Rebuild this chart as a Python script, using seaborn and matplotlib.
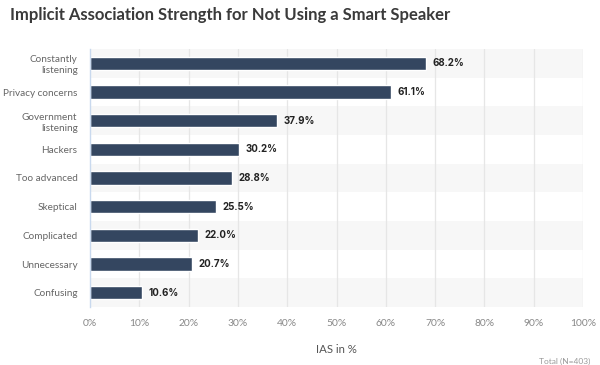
import matplotlib
matplotlib.use("Agg")
import matplotlib.pyplot as plt
import seaborn as sns
import pandas as pd
from matplotlib.ticker import FixedLocator, NullFormatter

categories = ["Constantly\nlistening", "Privacy concerns", "Government\nlistening", "Hackers",
              "Too advanced", "Skeptical", "Complicated", "Unnecessary", "Confusing"]
values = [68.2, 61.1, 37.9, 30.2, 28.8, 25.5, 22.0, 20.7, 10.6]
x_ticks = [0, 10, 20, 30, 40, 50, 60, 70, 80, 90, 100]

df = pd.DataFrame({"reason": categories, "ias": values})

sns.set_theme(style="white")
plt.rcParams['font.family'] = ['Lato', 'DejaVu Sans']

fig = plt.figure(figsize=(6, 3.65), dpi=100)
ax = fig.add_axes([90/600, 1 - 307/365, (583-90)/600, (307-49)/365])

n = len(categories)
for i in range(n):
    if i % 2 == 0:
        ax.axhspan(i - 0.5, i + 0.5, color="#f7f7f7", zorder=0, lw=0)
for t in x_ticks[1:]:
    ax.axvline(t, color="#e6e6e6", lw=0.9, zorder=0.5)

sns.barplot(data=df, x="ias", y="reason", orient="h", color="#344660",
            width=0.46, ax=ax, zorder=2, saturation=1)

for i, v in enumerate(values):
    ax.text(v + 1.3, i, f"{v:.1f}%", va="center", ha="left", fontsize=7,
            fontweight="bold", color="#222222", family=["Inter", "DejaVu Sans"])

ax.set_xlim(0, 100)
ax.set_ylim(n - 0.5, -0.5)
ax.set_xticks(x_ticks)
ax.set_xticklabels([f"{t}%" for t in x_ticks], fontsize=7.4, color="#888888")
ax.tick_params(axis="x", length=0, pad=9)
ax.yaxis.set_major_locator(FixedLocator(range(n)))
ax.set_yticklabels(categories, fontsize=7.2, color="#666666", linespacing=1.3)
ax.tick_params(axis="y", which="major", length=0, pad=9)
ax.yaxis.set_minor_locator(FixedLocator([i - 0.5 for i in range(n + 1)]))
ax.yaxis.set_minor_formatter(NullFormatter())
ax.tick_params(axis="y", which="minor", length=6, width=1, color="#c9d9ee")

for s in ["top", "right", "bottom"]:
    ax.spines[s].set_visible(False)
ax.spines["left"].set_color("#c9d9ee")
ax.spines["left"].set_linewidth(1)

ax.set_xlabel("IAS in %", fontsize=8.2, color="#555555", labelpad=11)
ax.set_ylabel("")

fig.text(10/600, 1 - 15/365, "Implicit Association Strength for Not Using a Smart Speaker",
         fontsize=12.0, fontweight="bold", color="#3a3a3a", va="center", ha="left")
fig.text(590/600, 1 - 361/365, "Total (N=403)", fontsize=6, color="#999999",
         ha="right", va="center")

fig.savefig("out.png", dpi=100)
